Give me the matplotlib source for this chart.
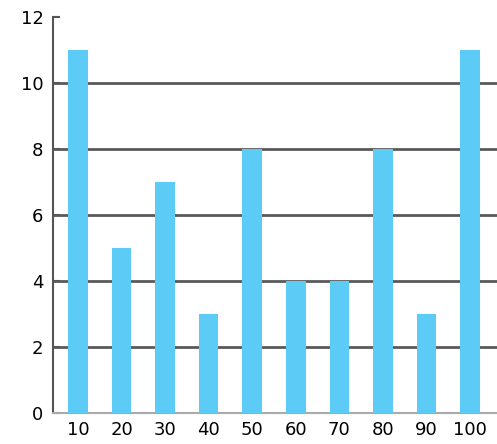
import matplotlib.pyplot as plt

categories = ["10", "20", "30", "40", "50", "60", "70", "80", "90", "100"]
values = [11, 5, 7, 3, 8, 4, 4, 8, 3, 11]
y_ticks = [0, 2, 4, 6, 8, 10, 12]

plt.rcParams.update({
    "font.family": "DejaVu Sans",
    "figure.dpi": 100,
})

fig = plt.figure(figsize=(4.97, 4.44))
ax = fig.add_axes([0.107, 0.07, 0.893, 0.892])

ax.bar(range(len(categories)), values, width=0.45, color="#5CCBF5", zorder=3)

for y in y_ticks[1:-1]:
    ax.axhline(y, color="#5a5a5a", linewidth=2, zorder=2)

ax.set_xlim(-0.57, 9.62)
ax.set_ylim(0, 12)
ax.set_xticks(range(len(categories)))
ax.set_xticklabels(categories)
ax.set_yticks(y_ticks)
ax.tick_params(axis="x", length=0, labelsize=13, pad=6)
ax.tick_params(axis="y", direction="in", length=5, width=1.5, color="#555555", labelsize=13, pad=7)

ax.spines["top"].set_visible(False)
ax.spines["right"].set_visible(False)
ax.spines["left"].set_color("#555555")
ax.spines["left"].set_linewidth(1.5)
ax.spines["bottom"].set_color("#aaaaaa")
ax.spines["bottom"].set_linewidth(1.5)

fig.savefig("out.png", dpi=100)
